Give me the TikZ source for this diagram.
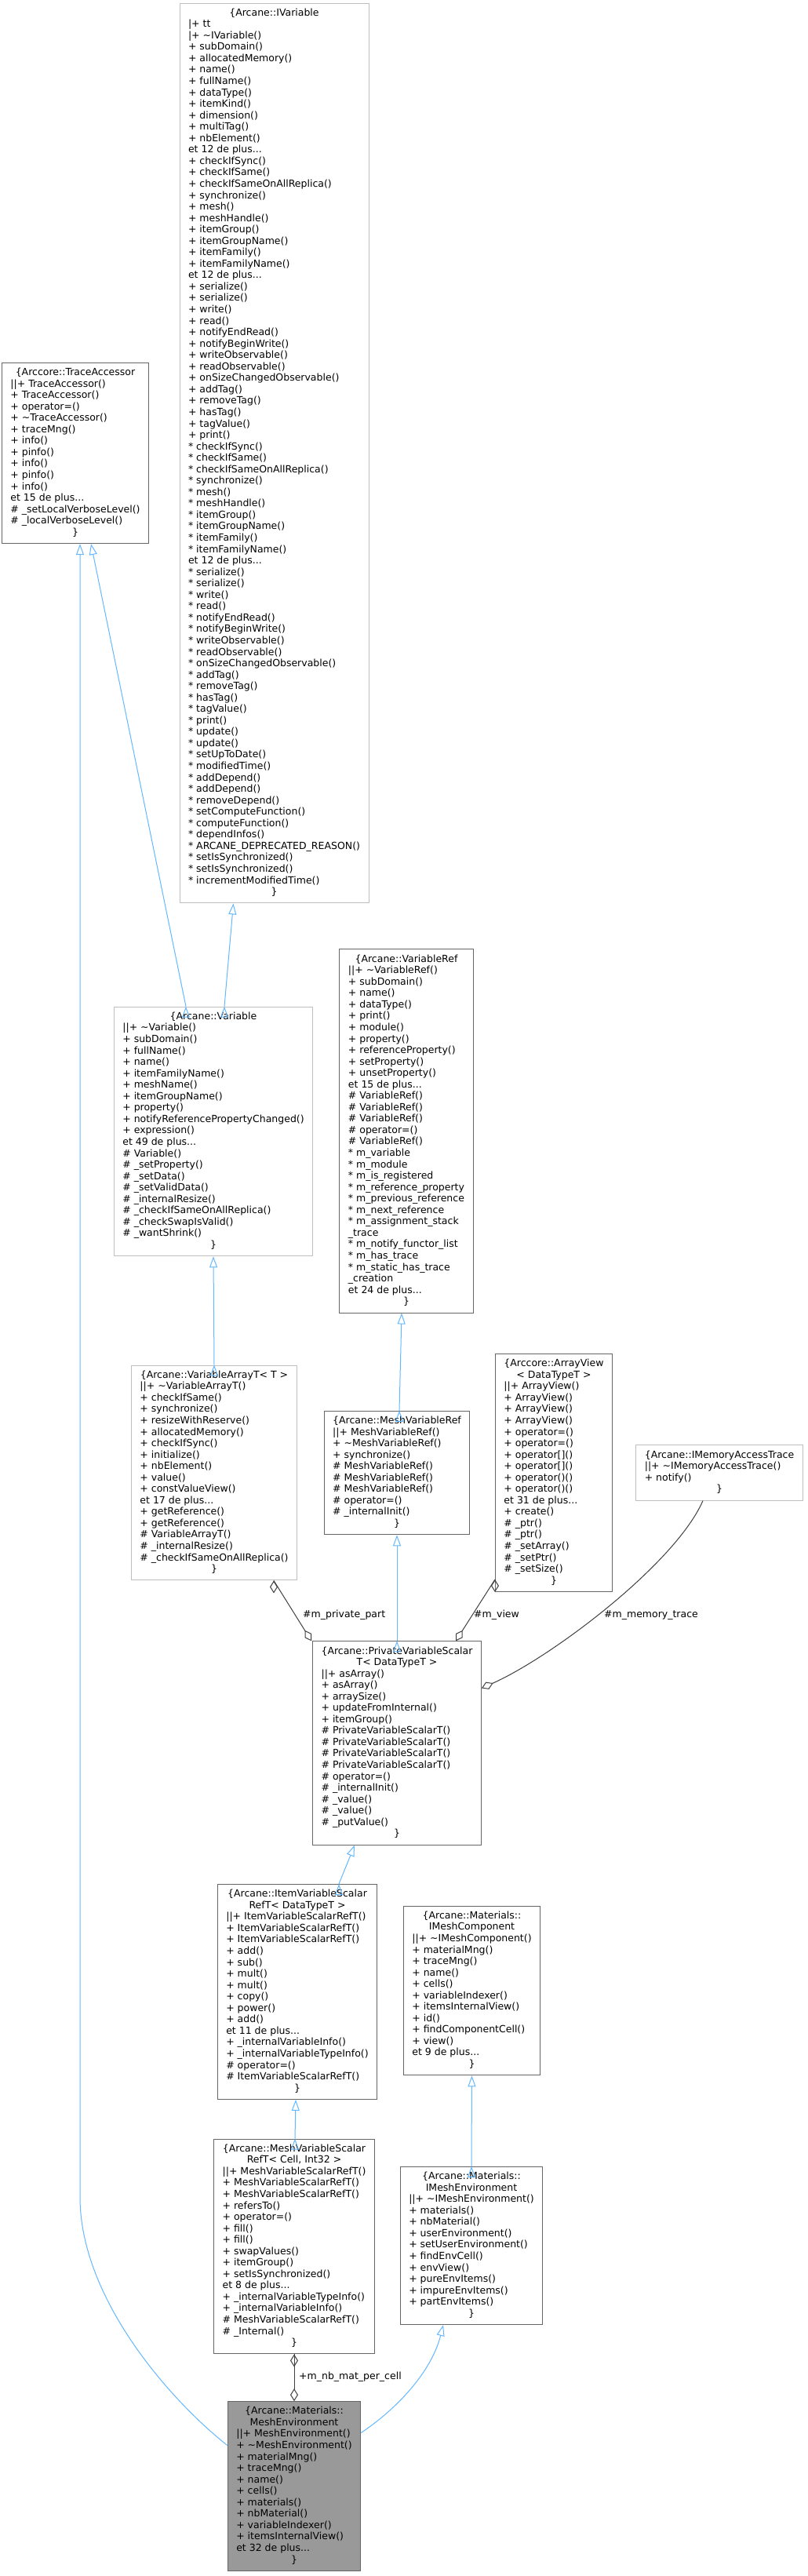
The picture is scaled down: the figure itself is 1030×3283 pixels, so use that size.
\documentclass[tikz,border=0pt]{standalone}
\usepackage{fontspec}
\setmainfont{DejaVu Sans}
\usepackage{tikz}
\usetikzlibrary{arrows.meta}

\definecolor{edgeblue}{HTML}{63B8FF}
\definecolor{edgegrey}{HTML}{404040}
\definecolor{boxlight}{HTML}{BFBFBF}
\definecolor{boxdark}{HTML}{666666}
\definecolor{boxfill}{HTML}{999999}

\newcommand{\hdr}[1]{\multicolumn{1}{@{}c@{}}{#1}}
\newcommand{\members}[1]{\begin{tabular}{@{}l@{}}#1\end{tabular}}

\tikzset{
	cls/.style={shape=rectangle, draw=#1, line width=1pt, inner xsep=11pt, inner ysep=6pt, font=\fontsize{12.5}{14.55}\selectfont},
	lbl/.style={anchor=west, inner sep=0pt, font=\fontsize{12.5}{14.55}\selectfont},
	inh/.style={draw=edgeblue, line width=1pt, -{Triangle[open, length=14pt, width=10pt]}},
	usage/.style={draw=edgegrey, line width=1pt, -{Diamond[open, length=16pt, width=10pt]}},
}

\begin{document}
\begin{tikzpicture}[x=1pt, y=-1pt]
	\path[fill=white, use as bounding box] (0,0) rectangle (1030,3283);

	\node[cls=boxlight] (ivar) at (349.5,577.5) {\members{
		\hdr{\{Arcane::IVariable}\\
		|+ tt\\
		|+ \textasciitilde IVariable()\\
		+ subDomain()\\
		+ allocatedMemory()\\
		+ name()\\
		+ fullName()\\
		+ dataType()\\
		+ itemKind()\\
		+ dimension()\\
		+ multiTag()\\
		+ nbElement()\\
		et 12 de plus...\\
		+ checkIfSync()\\
		+ checkIfSame()\\
		+ checkIfSameOnAllReplica()\\
		+ synchronize()\\
		+ mesh()\\
		+ meshHandle()\\
		+ itemGroup()\\
		+ itemGroupName()\\
		+ itemFamily()\\
		+ itemFamilyName()\\
		et 12 de plus...\\
		+ serialize()\\
		+ serialize()\\
		+ write()\\
		+ read()\\
		+ notifyEndRead()\\
		+ notifyBeginWrite()\\
		+ writeObservable()\\
		+ readObservable()\\
		+ onSizeChangedObservable()\\
		+ addTag()\\
		+ removeTag()\\
		+ hasTag()\\
		+ tagValue()\\
		+ print()\\
		{*} checkIfSync()\\
		{*} checkIfSame()\\
		{*} checkIfSameOnAllReplica()\\
		{*} synchronize()\\
		{*} mesh()\\
		{*} meshHandle()\\
		{*} itemGroup()\\
		{*} itemGroupName()\\
		{*} itemFamily()\\
		{*} itemFamilyName()\\
		et 12 de plus...\\
		{*} serialize()\\
		{*} serialize()\\
		{*} write()\\
		{*} read()\\
		{*} notifyEndRead()\\
		{*} notifyBeginWrite()\\
		{*} writeObservable()\\
		{*} readObservable()\\
		{*} onSizeChangedObservable()\\
		{*} addTag()\\
		{*} removeTag()\\
		{*} hasTag()\\
		{*} tagValue()\\
		{*} print()\\
		{*} update()\\
		{*} update()\\
		{*} setUpToDate()\\
		{*} modifiedTime()\\
		{*} addDepend()\\
		{*} addDepend()\\
		{*} removeDepend()\\
		{*} setComputeFunction()\\
		{*} computeFunction()\\
		{*} dependInfos()\\
		{*} ARCANE\_DEPRECATED\_REASON()\\
		{*} setIsSynchronized()\\
		{*} setIsSynchronized()\\
		{*} incrementModifiedTime()\\
		\hdr{\}}}};

	\node[cls=boxdark] (trace) at (96,577.5) {\members{
		\hdr{\{Arccore::TraceAccessor}\\
		||+ TraceAccessor()\\
		+ TraceAccessor()\\
		+ operator=()\\
		+ \textasciitilde TraceAccessor()\\
		+ traceMng()\\
		+ info()\\
		+ pinfo()\\
		+ info()\\
		+ pinfo()\\
		+ info()\\
		et 15 de plus...\\
		\# \_setLocalVerboseLevel()\\
		\# \_localVerboseLevel()\\
		\hdr{\}}}};

	\node[cls=boxlight] (var) at (272,1442) {\members{
		\hdr{\{Arcane::Variable}\\
		||+ \textasciitilde Variable()\\
		+ subDomain()\\
		+ fullName()\\
		+ name()\\
		+ itemFamilyName()\\
		+ meshName()\\
		+ itemGroupName()\\
		+ property()\\
		+ notifyReferencePropertyChanged()\\
		+ expression()\\
		et 49 de plus...\\
		\# Variable()\\
		\# \_setProperty()\\
		\# \_setData()\\
		\# \_setValidData()\\
		\# \_internalResize()\\
		\# \_checkIfSameOnAllReplica()\\
		\# \_checkSwapIsValid()\\
		\# \_wantShrink()\\
		\hdr{\}}}};

	\node[cls=boxdark] (varref) at (518,1441.5) {\members{
		\hdr{\{Arcane::VariableRef}\\
		||+ \textasciitilde VariableRef()\\
		+ subDomain()\\
		+ name()\\
		+ dataType()\\
		+ print()\\
		+ module()\\
		+ property()\\
		+ referenceProperty()\\
		+ setProperty()\\
		+ unsetProperty()\\
		et 15 de plus...\\
		\# VariableRef()\\
		\# VariableRef()\\
		\# VariableRef()\\
		\# operator=()\\
		\# VariableRef()\\
		{*} m\_variable\\
		{*} m\_module\\
		{*} m\_is\_registered\\
		{*} m\_reference\_property\\
		{*} m\_previous\_reference\\
		{*} m\_next\_reference\\
		{*} m\_assignment\_stack\\
		\_trace\\
		{*} m\_notify\_functor\_list\\
		{*} m\_has\_trace\\
		{*} m\_static\_has\_trace\\
		\_creation\\
		et 24 de plus...\\
		\hdr{\}}}};

	\node[cls=boxlight] (vararr) at (273,1877) {\members{
		\hdr{\{Arcane::VariableArrayT< T >}\\
		||+ \textasciitilde VariableArrayT()\\
		+ checkIfSame()\\
		+ synchronize()\\
		+ resizeWithReserve()\\
		+ allocatedMemory()\\
		+ checkIfSync()\\
		+ initialize()\\
		+ nbElement()\\
		+ value()\\
		+ constValueView()\\
		et 17 de plus...\\
		+ getReference()\\
		+ getReference()\\
		\# VariableArrayT()\\
		\# \_internalResize()\\
		\# \_checkIfSameOnAllReplica()\\
		\hdr{\}}}};

	\node[cls=boxdark] (mvref) at (506,1877) {\members{
		\hdr{\{Arcane::MeshVariableRef}\\
		||+ MeshVariableRef()\\
		+ \textasciitilde MeshVariableRef()\\
		+ synchronize()\\
		\# MeshVariableRef()\\
		\# MeshVariableRef()\\
		\# MeshVariableRef()\\
		\# operator=()\\
		\# \_internalInit()\\
		\hdr{\}}}};

	\node[cls=boxdark] (aview) at (706,1877) {\members{
		\hdr{\{Arccore::ArrayView}\\
		\hdr{< DataTypeT >}\\
		||+ ArrayView()\\
		+ ArrayView()\\
		+ ArrayView()\\
		+ ArrayView()\\
		+ operator=()\\
		+ operator=()\\
		+ operator[]()\\
		+ operator[]()\\
		+ operator()()\\
		+ operator()()\\
		et 31 de plus...\\
		+ create()\\
		\# \_ptr()\\
		\# \_ptr()\\
		\# \_setArray()\\
		\# \_setPtr()\\
		\# \_setSize()\\
		\hdr{\}}}};

	\node[cls=boxlight] (imat) at (917,1877) {\members{
		\hdr{\{Arcane::IMemoryAccessTrace}\\
		||+ \textasciitilde IMemoryAccessTrace()\\
		+ notify()\\
		\hdr{\}}}};

	\node[cls=boxdark] (pvs) at (506,2221.5) {\members{
		\hdr{\{Arcane::PrivateVariableScalar}\\
		\hdr{T< DataTypeT >}\\
		||+ asArray()\\
		+ asArray()\\
		+ arraySize()\\
		+ updateFromInternal()\\
		+ itemGroup()\\
		\# PrivateVariableScalarT()\\
		\# PrivateVariableScalarT()\\
		\# PrivateVariableScalarT()\\
		\# PrivateVariableScalarT()\\
		\# operator=()\\
		\# \_internalInit()\\
		\# \_value()\\
		\# \_value()\\
		\# \_putValue()\\
		\hdr{\}}}};

	\node[cls=boxdark] (ivs) at (379,2538.5) {\members{
		\hdr{\{Arcane::ItemVariableScalar}\\
		\hdr{RefT< DataTypeT >}\\
		||+ ItemVariableScalarRefT()\\
		+ ItemVariableScalarRefT()\\
		+ ItemVariableScalarRefT()\\
		+ add()\\
		+ sub()\\
		+ mult()\\
		+ mult()\\
		+ copy()\\
		+ power()\\
		+ add()\\
		et 11 de plus...\\
		+ \_internalVariableInfo()\\
		+ \_internalVariableTypeInfo()\\
		\# operator=()\\
		\# ItemVariableScalarRefT()\\
		\hdr{\}}}};

	\node[cls=boxdark] (imc) at (601.5,2537) {\members{
		\hdr{\{Arcane::Materials::}\\
		\hdr{IMeshComponent}\\
		||+ \textasciitilde IMeshComponent()\\
		+ materialMng()\\
		+ traceMng()\\
		+ name()\\
		+ cells()\\
		+ variableIndexer()\\
		+ itemsInternalView()\\
		+ id()\\
		+ findComponentCell()\\
		+ view()\\
		et 9 de plus...\\
		\hdr{\}}}};

	\node[cls=boxdark] (mvs) at (375,2863) {\members{
		\hdr{\{Arcane::MeshVariableScalar}\\
		\hdr{RefT< Cell, Int32 >}\\
		||+ MeshVariableScalarRefT()\\
		+ MeshVariableScalarRefT()\\
		+ MeshVariableScalarRefT()\\
		+ refersTo()\\
		+ operator=()\\
		+ fill()\\
		+ fill()\\
		+ swapValues()\\
		+ itemGroup()\\
		+ setIsSynchronized()\\
		et 8 de plus...\\
		+ \_internalVariableTypeInfo()\\
		+ \_internalVariableInfo()\\
		\# MeshVariableScalarRefT()\\
		\# \_Internal()\\
		\hdr{\}}}};

	\node[cls=boxdark] (ime) at (601,2862) {\members{
		\hdr{\{Arcane::Materials::}\\
		\hdr{IMeshEnvironment}\\
		||+ \textasciitilde IMeshEnvironment()\\
		+ materials()\\
		+ nbMaterial()\\
		+ userEnvironment()\\
		+ setUserEnvironment()\\
		+ findEnvCell()\\
		+ envView()\\
		+ pureEnvItems()\\
		+ impureEnvItems()\\
		+ partEnvItems()\\
		\hdr{\}}}};

	\node[cls=boxdark, fill=boxfill] (menv) at (375,3168.5) {\members{
		\hdr{\{Arcane::Materials::}\\
		\hdr{MeshEnvironment}\\
		||+ MeshEnvironment()\\
		+ \textasciitilde MeshEnvironment()\\
		+ materialMng()\\
		+ traceMng()\\
		+ name()\\
		+ cells()\\
		+ materials()\\
		+ nbMaterial()\\
		+ variableIndexer()\\
		+ itemsInternalView()\\
		et 32 de plus...\\
		\hdr{\}}}};

	\coordinate (bend) at (102,2800);

	\path[inh] ([xshift=14pt]var.north) edge ([xshift=-52pt]ivar.south);
	\path[inh] ([xshift=-35pt]var.north) edge ([xshift=20pt]trace.south);
	\path[inh] (vararr.north) edge (var.south);
	\path[inh] ([xshift=3pt]mvref.north) edge ([xshift=-6pt]varref.south);
	\path[inh] (pvs.north) edge (mvref.south);
	\path[inh] ([xshift=53pt]ivs.north) edge ([xshift=-54pt]pvs.south);
	\path[inh] ([xshift=1pt]mvs.north) edge ([xshift=-2pt]ivs.south);
	\path[inh] (ime.north) edge (imc.south);
	\draw[inh] ([yshift=68pt]menv.east) .. controls +(45,-30) and +(-15,60) .. ([xshift=-36pt]ime.south);
	\draw[inh] ([yshift=52pt]menv.west) .. controls +(-71,-56) and +(0,130) .. (bend) -- ([xshift=6pt]trace.south);

	\path[usage] ([xshift=76pt]vararr.south) edge ([xshift=-109pt]pvs.north);
	\path[usage] ([yshift=16pt]aview.south west) edge ([xshift=75pt]pvs.north);
	\draw[usage] ([xshift=-21pt]imat.south) .. controls +(-35,80) and +(90,-40) .. ([yshift=70pt]pvs.east);
	\path[usage] (mvs.south) edge (menv.north);

	\node[lbl] (lpriv) at (386,2058) {\#m\_private\_part};
	\node[lbl] (lview) at (604,2058) {\#m\_view};
	\node[lbl] (lmem) at (770,2058) {\#m\_memory\_trace};
	\node[lbl] (lnb) at (381,3029) {+m\_nb\_mat\_per\_cell};
\end{tikzpicture}
\end{document}
